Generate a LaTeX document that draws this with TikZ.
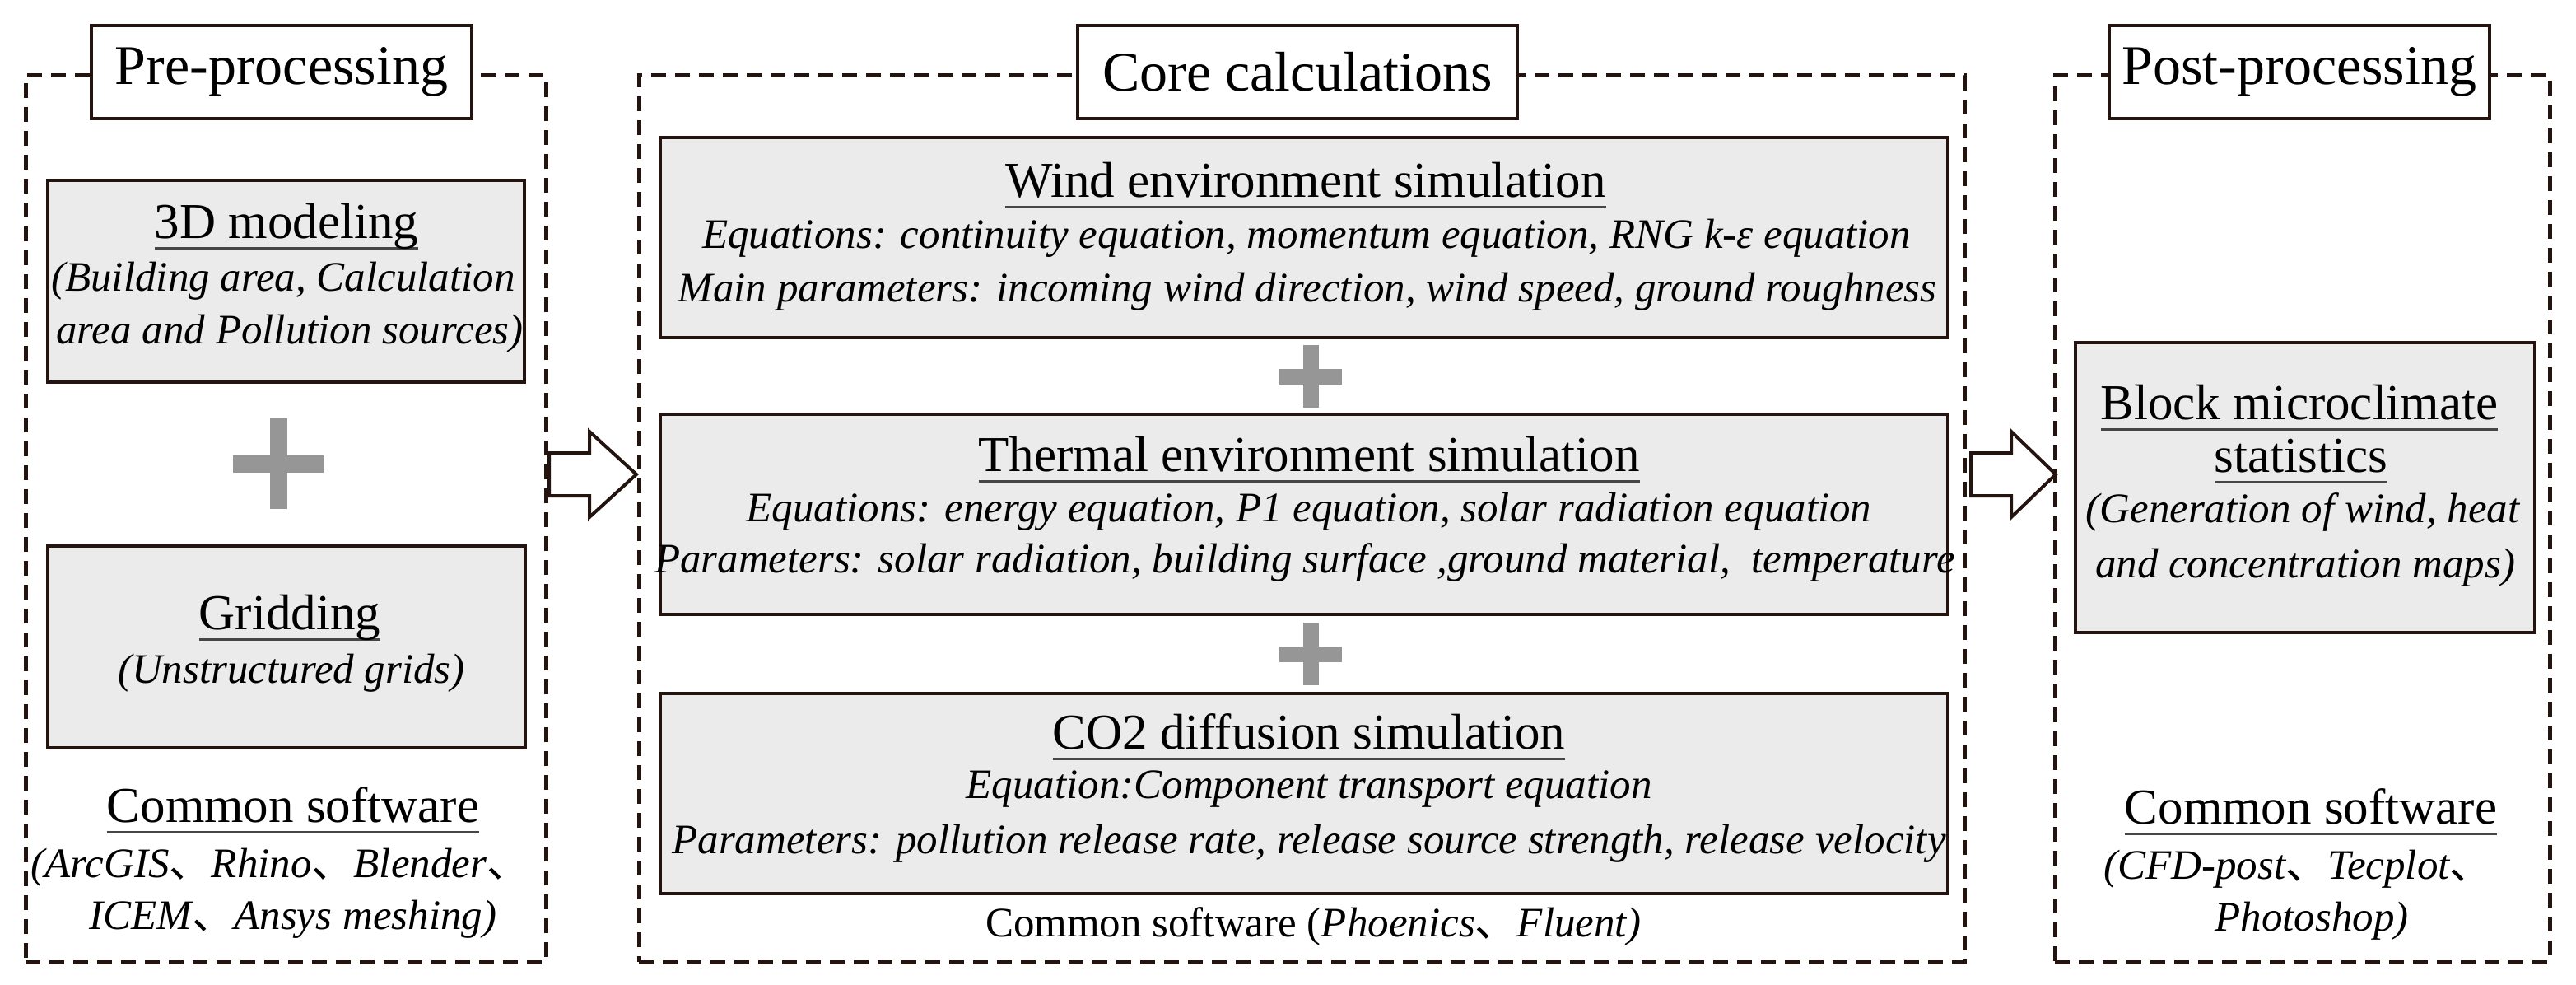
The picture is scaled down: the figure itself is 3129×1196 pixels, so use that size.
\documentclass[tikz,border=0pt]{standalone}
\usepackage{fontspec}
\setmainfont{Liberation Serif}
\newfontfamily\cjk{Noto Sans CJK SC}
\newcommand\dun{{\cjk 、}}
\definecolor{dk}{RGB}{35,20,16}
\definecolor{boxg}{RGB}{235,235,235}
\definecolor{plusg}{RGB}{150,150,150}
\definecolor{ulc}{RGB}{70,70,70}
\newcommand\myul[1]{\setbox0\hbox{#1}\leavevmode\rlap{\color{ulc}\rule[-14pt]{\wd0}{3pt}}\box0}
\newcommand\plusmark[4]{\fill[plusg] (#1-#3,#2-#4) rectangle (#1+#3,#2+#4);\fill[plusg] (#1-#4,#2-#3) rectangle (#1+#4,#2+#3);}
\tikzset{
  grp/.style={draw=dk, line width=5pt, dash pattern=on 18pt off 11pt, inner sep=0pt},
  ttl/.style={draw=dk, line width=4.5pt, fill=white, inner sep=0pt, minimum height=113pt, font=\fontsize{68}{80}\selectfont},
  gbox/.style={draw=dk, line width=4.5pt, fill=boxg, inner sep=0pt},
  hd/.style={anchor=base, inner sep=0pt, font=\fontsize{61}{70}\selectfont},
  tx/.style={anchor=base, inner sep=0pt, font=\fontsize{51}{60}\selectfont},
  it/.style={anchor=base, inner sep=0pt, font=\fontsize{51}{60}\selectfont\itshape},
  blockarrow/.style={draw=dk, line width=4pt, fill=white, line join=miter},
}
\begin{document}
\begin{tikzpicture}[x=1pt,y=-1pt]
\useasboundingbox (0,0) rectangle (3129,1196);
\fill[white] (0,0) rectangle (3129,1196);
% group frames
\node[grp, minimum width=632pt, minimum height=1076pt] (pre) at (347,630) {};
\node[grp, minimum width=1610pt, minimum height=1076pt] (core) at (1581,630) {};
\node[grp, minimum width=601pt, minimum height=1076pt] (post) at (2796.5,630) {};
% titles
\node[ttl, minimum width=462pt] (preT) at (342,87.5) {Pre-processing};
\node[ttl, minimum width=534pt] (coreT) at (1576,87.5) {Core calculations};
\node[ttl, minimum width=462pt] (postT) at (2793,87.5) {Post-processing};
% boxes
\node[gbox, minimum width=579pt, minimum height=245pt] (m3d) at (347.5,341.5) {};
\node[gbox, minimum width=580pt, minimum height=245pt] (grid) at (348,785.5) {};
\node[gbox, minimum width=1564pt, minimum height=243pt] (wind) at (1584,288.5) {};
\node[gbox, minimum width=1564pt, minimum height=243pt] (therm) at (1584,624.5) {};
\node[gbox, minimum width=1564pt, minimum height=243pt] (co2) at (1584,963.5) {};
\node[gbox, minimum width=558pt, minimum height=352pt] (blk) at (2800,592) {};
% plus signs
\plusmark{338}{563}{55}{10.5}
\plusmark{1592}{457}{38}{9.5}
\plusmark{1592}{794}{38}{9.5}
% block arrows
\draw[blockarrow] (667,550) -- (716,550) -- (716,524) -- (773,576) -- (716,628) -- (716,602) -- (667,602) -- cycle;
\draw[blockarrow] (2394,550) -- (2443,550) -- (2443,524) -- (2497,576) -- (2443,628) -- (2443,602) -- (2394,602) -- cycle;
% left texts
\node[hd] (t3d) at (348,289) {\myul{3D modeling}};
\node[it] (t3da) at (344,353) {(Building area, Calculation};
\node[it] (t3db) at (352,417) {area and Pollution sources)};
\node[hd] (tgr) at (352,764) {\myul{Gridding}};
\node[it] (tgra) at (354,829) {(Unstructured grids)};
\node[hd] (tcsl) at (356,998) {\myul{Common software}};
\node[it] (tcsla) at (340,1065) {(ArcGIS\dun Rhino\dun Blender\dun};
\node[it] (tcslb) at (356,1128) {ICEM\dun Ansys meshing)};
% middle texts
\node[hd] (tw) at (1586,239) {\myul{Wind environment simulation}};
\node[it] (twa) at (1587,301) {Equations: continuity equation, momentum equation, RNG k-ε equation};
\node[it] (twb) at (1588,366) {Main parameters: incoming wind direction, wind speed, ground roughness};
\node[hd] (tt) at (1590,572) {\myul{Thermal environment simulation}};
\node[it] (tta) at (1590,633) {Equations: energy equation, P1 equation, solar radiation equation};
\node[it] (ttb) at (1585,695) {Parameters: solar radiation, building surface ,ground material, \ temperature};
\node[hd] (tc) at (1590,909) {\myul{CO2 diffusion simulation}};
\node[it] (tca) at (1590,969) {Equation:Component transport equation};
\node[it] (tcb) at (1590,1036) {Parameters: pollution release rate, release source strength, release velocity};
\node[tx] (tcsm) at (1595,1137) {Common software (\textit{Phoenics}\dun\textit{Fluent)}};
% right texts
\node[hd] (tb) at (2793,509) {\myul{Block microclimate}};
\node[hd] (tba) at (2795,573) {\myul{statistics}};
\node[it] (tbb) at (2797,634) {(Generation of wind, heat};
\node[it] (tbc) at (2800,701) {and concentration maps)};
\node[hd] (tcsr) at (2807,1000) {\myul{Common software}};
\node[it] (tcsra) at (2791,1067) {(CFD-post\dun Tecplot\dun};
\node[it] (tcsrb) at (2808,1130) {Photoshop)};
\end{tikzpicture}
\end{document}
